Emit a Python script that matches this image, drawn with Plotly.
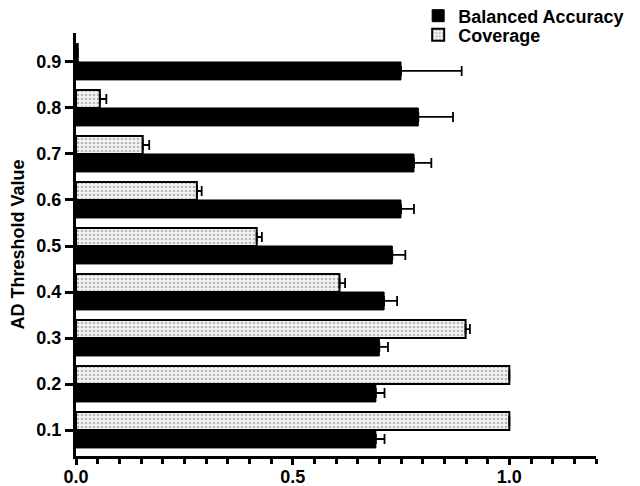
import plotly.graph_objects as go

thresholds = ["0.1", "0.2", "0.3", "0.4", "0.5", "0.6", "0.7", "0.8", "0.9"]
balanced_accuracy = [0.692, 0.692, 0.700, 0.711, 0.730, 0.750, 0.780, 0.790, 0.750]
balanced_accuracy_err = [0.020, 0.020, 0.020, 0.030, 0.030, 0.030, 0.040, 0.080, 0.140]
coverage = [1.000, 1.000, 0.899, 0.608, 0.417, 0.279, 0.154, 0.055, 0.004]
coverage_err = [0.0, 0.0, 0.010, 0.013, 0.012, 0.011, 0.015, 0.015, 0.0]
x_tick_vals = [0.0, 0.5, 1.0]
x_tick_text = ["0.0", "0.5", "1.0"]

FONT = "Liberation Sans, Arial, sans-serif"

fig = go.Figure()
fig.add_trace(go.Bar(
    name="Balanced Accuracy", y=thresholds, x=balanced_accuracy, orientation="h",
    legend="legend", showlegend=True,
    marker=dict(color="black", line=dict(color="black", width=1)),
    error_x=dict(type="data", array=balanced_accuracy_err,
                 arrayminus=[0] * len(balanced_accuracy_err), symmetric=False,
                 color="black", thickness=1.8, width=5),
))
fig.add_trace(go.Bar(
    name="Coverage", y=thresholds, x=coverage, orientation="h",
    legend="legend2", showlegend=True,
    marker=dict(color="#f4f4f4", line=dict(color="black", width=2),
                pattern=dict(shape=".", fgcolor="#777777", bgcolor="#f4f4f4",
                             size=4, solidity=0.35)),
    error_x=dict(type="data", array=coverage_err,
                 arrayminus=[0] * len(coverage_err), symmetric=False,
                 color="black", thickness=1.8, width=5),
))

legend_font = dict(family=FONT, size=18, color="black", weight="bold")

# page body has an 8px margin: figure is sized/offset to fill the 640x486 window
fig.update_layout(
    width=632, height=478, autosize=False, showlegend=True,
    margin=dict(l=68, r=44, t=25, b=30, autoexpand=False),
    paper_bgcolor="white", plot_bgcolor="white",
    barmode="group", bargap=0.22, bargroupgap=0,
    font=dict(family=FONT, size=18, color="black", weight="bold"),
    legend=dict(xref="container", yref="container", x=0.649, y=0.9833,
                xanchor="left", yanchor="middle", font=legend_font,
                bgcolor="rgba(0,0,0,0)"),
    legend2=dict(xref="container", yref="container", x=0.649, y=0.9435,
                 xanchor="left", yanchor="middle", font=legend_font,
                 bgcolor="rgba(0,0,0,0)"),
    xaxis=dict(range=[0, 1.2], tickvals=x_tick_vals, ticktext=x_tick_text,
               automargin=False, ticklabelstandoff=-4,
               ticks="outside", ticklen=6, tickwidth=2.5, tickcolor="black",
               showline=True, linewidth=3, linecolor="black",
               showgrid=False, zeroline=False,
               minor=dict(dtick=0.05, ticks="outside", ticklen=5, tickwidth=2.5,
                          tickcolor="black", showgrid=False),
               tickfont=dict(family=FONT, size=18, weight="bold")),
    yaxis=dict(type="category", range=[-0.565, 8.63], automargin=False,
               ticks="outside", ticklen=8, tickwidth=2.5, tickcolor="black",
               showline=True, linewidth=3, linecolor="black",
               showgrid=False, zeroline=False,
               tickfont=dict(family=FONT, size=18, weight="bold"),
               title=dict(text="AD Threshold Value", standoff=15,
                          font=dict(family=FONT, size=18, weight="bold"))),
)

fig.write_html("out.html")
